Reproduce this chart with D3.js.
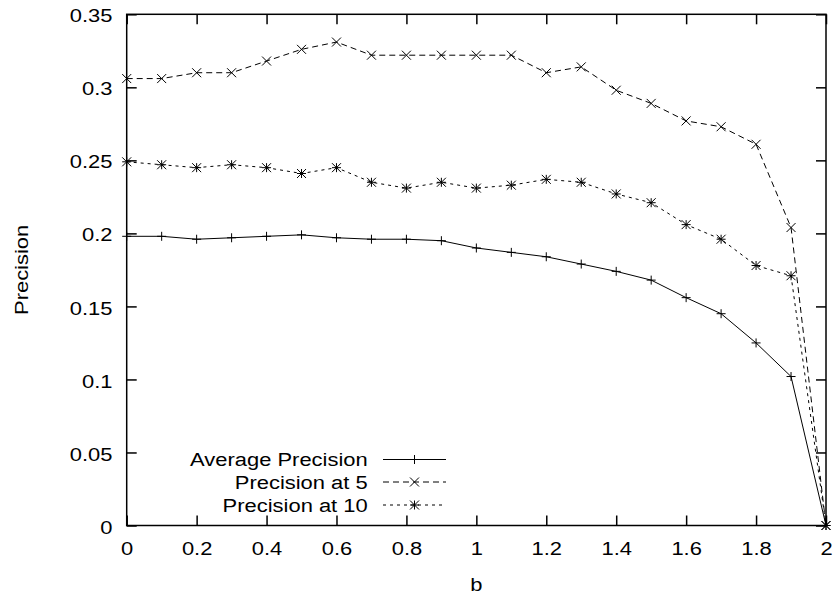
<!DOCTYPE html>
<html>
<head>
<meta charset="utf-8">
<script src="https://cdn.jsdelivr.net/npm/d3@7"></script>
<style>
  body { margin: 0; background: #fff; }
  svg text { font-family: "Liberation Sans", Arial, sans-serif; font-size: 18.6px; fill: #000; }
</style>
</head>
<body>
<svg id="chart" width="839" height="595"></svg>
<script>
// ── Data ─────────────────────────────────────────────
const bValues = [0, 0.1, 0.2, 0.3, 0.4, 0.5, 0.6, 0.7, 0.8, 0.9, 1.0,
                 1.1, 1.2, 1.3, 1.4, 1.5, 1.6, 1.7, 1.8, 1.9, 2.0];

const avgPrecision  = [0.198, 0.198, 0.196, 0.197, 0.198, 0.199, 0.197, 0.196, 0.196, 0.195, 0.190,
                       0.187, 0.184, 0.179, 0.174, 0.168, 0.156, 0.145, 0.125, 0.102, 0];
const precisionAt5  = [0.306, 0.306, 0.310, 0.310, 0.318, 0.326, 0.331, 0.322, 0.322, 0.322, 0.322,
                       0.322, 0.310, 0.314, 0.298, 0.289, 0.277, 0.273, 0.261, 0.204, 0];
const precisionAt10 = [0.249, 0.247, 0.245, 0.247, 0.245, 0.241, 0.245, 0.235, 0.231, 0.235, 0.231,
                       0.233, 0.237, 0.235, 0.227, 0.221, 0.206, 0.196, 0.178, 0.171, 0];

const seriesNames = ["Average Precision", "Precision at 5", "Precision at 10"];

const xTicks = [0, 0.2, 0.4, 0.6, 0.8, 1, 1.2, 1.4, 1.6, 1.8, 2];
const yTicks = [0, 0.05, 0.1, 0.15, 0.2, 0.25, 0.3, 0.35];

// ── Layout ───────────────────────────────────────────
const margin = { top: 14.3, right: 13, bottom: 69.5, left: 126.7 };
const W = 839, H = 595;
const width  = W - margin.left - margin.right;
const height = H - margin.top - margin.bottom;
const SX = 1.18;   // glyphs in the reference are a bit wide

const svg = d3.select("#chart");
const g = svg.append("g").attr("transform", `translate(${margin.left},${margin.top})`);

const x = d3.scaleLinear().domain([0, 2]).range([0, width]);
const y = d3.scaleLinear().domain([0, 0.35]).range([height, 0]);

const fmt = d => String(+d.toFixed(2));

// ── Axes (ticks inward, mirrored) ────────────────────
function styleAxis(sel) {
  sel.select(".domain").remove();
  sel.selectAll("line").attr("stroke", "#000").attr("stroke-width", 1.5);
}

g.append("g")
  .attr("transform", `translate(0,${height})`)
  .call(d3.axisBottom(x).tickValues(xTicks).tickSize(-10).tickFormat(fmt))
  .call(styleAxis)
  .call(a => a.selectAll("text")
    .attr("y", 29.5).attr("dy", null)
    .attr("transform", `scale(${SX},1)`)
    .attr("fill", "#000").attr("font-size", null).attr("font-family", null));

g.append("g")
  .call(d3.axisLeft(y).tickValues(yTicks).tickSize(-10).tickFormat(fmt))
  .call(styleAxis)
  .call(a => a.selectAll("text")
    .attr("x", -14.2 / SX).attr("y", 7.6).attr("dy", null)
    .attr("transform", `scale(${SX},1)`)
    .attr("fill", "#000").attr("font-size", null).attr("font-family", null));

g.append("g")
  .call(d3.axisTop(x).tickValues(xTicks).tickSize(-10).tickFormat(""))
  .call(styleAxis);

g.append("g")
  .attr("transform", `translate(${width},0)`)
  .call(d3.axisRight(y).tickValues(yTicks).tickSize(-10).tickFormat(""))
  .call(styleAxis);

// frame
g.append("rect")
  .attr("width", width).attr("height", height)
  .attr("fill", "none").attr("stroke", "#000").attr("stroke-width", 1.5);

// ── Axis titles ──────────────────────────────────────
svg.append("text")
  .attr("transform", `translate(${margin.left + width / 2},590.7) scale(${SX},1)`)
  .attr("text-anchor", "middle")
  .text("b");

svg.append("text")
  .attr("transform", `translate(28.3,${margin.top + height / 2}) rotate(-90) scale(${SX},1)`)
  .attr("text-anchor", "middle")
  .text("Precision");

// ── Markers ──────────────────────────────────────────
const R = 4.5;
const markPlus  = `M${-R},0H${R}M0,${-R}V${R}`;
const markCross = `M${-R},${-R}L${R},${R}M${-R},${R}L${R},${-R}`;
const markStar  = markPlus + markCross;

const series = [
  { name: seriesNames[0], values: avgPrecision,  dash: null,  mark: markPlus  },
  { name: seriesNames[1], values: precisionAt5,  dash: "6,4", mark: markCross },
  { name: seriesNames[2], values: precisionAt10, dash: "3,4", mark: markStar  },
];

const line = d3.line().x(d => x(d.b)).y(d => y(d.v));

series.forEach(s => {
  const data = bValues.map((b, i) => ({ b, v: s.values[i] }));

  g.append("path")
    .datum(data)
    .attr("fill", "none")
    .attr("stroke", "#000")
    .attr("stroke-width", 1)
    .attr("stroke-dasharray", s.dash)
    .attr("d", line);

  g.selectAll(null)
    .data(data).enter().append("path")
    .attr("transform", d => `translate(${x(d.b)},${y(d.v)})`)
    .attr("d", s.mark)
    .attr("fill", "none")
    .attr("stroke", "#000")
    .attr("stroke-width", 1);
});

// ── Legend ───────────────────────────────────────────
const legendTextX = 367.7, legendX0 = 383, legendX1 = 446;
const legendRows = [459.5, 482, 505];

series.forEach((s, i) => {
  const ly = legendRows[i];
  svg.append("text")
    .attr("transform", `translate(${legendTextX},${ly + 6.6}) scale(${SX},1)`)
    .attr("text-anchor", "end")
    .text(s.name);

  svg.append("line")
    .attr("x1", legendX0).attr("x2", legendX1)
    .attr("y1", ly).attr("y2", ly)
    .attr("stroke", "#000").attr("stroke-width", 1)
    .attr("stroke-dasharray", s.dash);

  svg.append("path")
    .attr("transform", `translate(${(legendX0 + legendX1) / 2},${ly})`)
    .attr("d", s.mark)
    .attr("fill", "none").attr("stroke", "#000").attr("stroke-width", 1);
});
</script>
</body>
</html>
